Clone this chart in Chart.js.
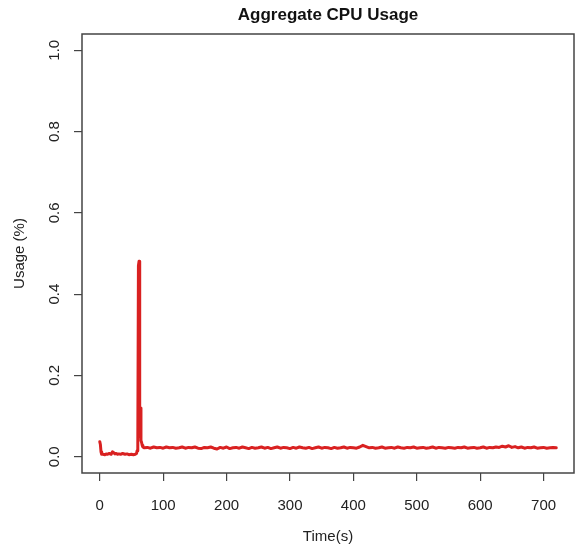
<!DOCTYPE html>
<html>
<head>
<meta charset="utf-8">
<script src="https://cdn.jsdelivr.net/npm/chart.js@4/dist/chart.umd.min.js"></script>
<style>
  html, body { margin: 0; padding: 0; background: #fff; }
  #wrap { width: 576px; height: 551px; }
</style>
</head>
<body>
<div id="wrap"><canvas id="cpu"></canvas></div>
<script>
const chartTitle = "Aggregate CPU Usage";
const xLabel = "Time(s)";
const yLabel = "Usage (%)";

const xTicks = [0, 100, 200, 300, 400, 500, 600, 700];
const yTicks = [0, 0.2, 0.4, 0.6, 0.8, 1.0];

// start-up section, before and around the spike
const timeStart = [0, 1, 2, 3, 5, 8, 10, 12, 15, 18, 20, 22, 24, 26, 28, 30, 33, 36, 40, 43,
  46, 50, 53, 56, 58, 59, 60, 61, 62, 63, 64, 65, 66, 67, 68, 70];
const usageStart = [0.037, 0.03, 0.012, 0.006, 0.006, 0.005, 0.007, 0.006, 0.008, 0.006,
  0.012, 0.01, 0.007, 0.008, 0.006, 0.007, 0.006, 0.008, 0.006, 0.007,
  0.005, 0.006, 0.005, 0.006, 0.008, 0.015, 0.02, 0.47, 0.481, 0.05, 0.12, 0.04, 0.035, 0.028, 0.024, 0.022];

// steady section
const timeSteady = [75, 80, 85, 90, 95, 100, 105, 110, 115, 120, 125, 130, 135, 140, 145, 150,
  155, 160, 165, 170, 175, 180, 185, 190, 195, 200, 205, 210, 215, 220, 225, 230, 235, 240,
  245, 250, 255, 260, 265, 270, 275, 280, 285, 290, 295, 300, 305, 310, 315, 320, 325, 330,
  335, 340, 345, 350, 355, 360, 365, 370, 375, 380, 385, 390, 395, 400, 405, 410, 415, 420,
  425, 430, 435, 440, 445, 450, 455, 460, 465, 470, 475, 480, 485, 490, 495, 500, 505, 510,
  515, 520, 525, 530, 535, 540, 545, 550, 555, 560, 565, 570, 575, 580, 585, 590, 595, 600,
  605, 610, 615, 620, 625, 630, 635, 640, 645, 650, 655, 660, 665, 670, 675, 680, 685, 690,
  695, 700, 705, 710, 715, 720];
const usageSteady = [0.023, 0.021, 0.024, 0.022, 0.023, 0.021, 0.024, 0.022, 0.023, 0.021,
  0.022, 0.024, 0.021, 0.023, 0.022, 0.024, 0.021, 0.020, 0.023, 0.022,
  0.024, 0.021, 0.019, 0.023, 0.021, 0.024, 0.020, 0.022, 0.023, 0.021,
  0.024, 0.022, 0.020, 0.023, 0.021, 0.022, 0.024, 0.021, 0.023, 0.020,
  0.022, 0.024, 0.021, 0.023, 0.022, 0.020, 0.023, 0.021, 0.024, 0.022,
  0.021, 0.023, 0.020, 0.022, 0.024, 0.021, 0.023, 0.022, 0.020, 0.023,
  0.021, 0.022, 0.024, 0.021, 0.023, 0.022, 0.021, 0.024, 0.028, 0.025,
  0.022, 0.023, 0.021, 0.022, 0.024, 0.021, 0.022, 0.023, 0.021, 0.024,
  0.022, 0.021, 0.023, 0.022, 0.024, 0.021, 0.022, 0.023, 0.021, 0.022,
  0.024, 0.021, 0.023, 0.022, 0.021, 0.023, 0.022, 0.021, 0.023, 0.022,
  0.024, 0.021, 0.022, 0.023, 0.021, 0.022, 0.024, 0.021, 0.023, 0.022,
  0.024, 0.023, 0.026, 0.024, 0.027, 0.023, 0.025, 0.022, 0.024, 0.021,
  0.023, 0.022, 0.024, 0.021, 0.022, 0.023, 0.021, 0.022, 0.023, 0.022];

const times = timeStart.concat(timeSteady);
const usage = usageStart.concat(usageSteady);

const FONT = "'Liberation Sans', Arial, sans-serif";
const INK = "#222";

// box around plot area + title centred over it (R style)
const framePlugin = {
  id: "frame",
  afterDraw(chart) {
    const { ctx, chartArea: a } = chart;
    ctx.save();
    ctx.strokeStyle = "#444";
    ctx.lineWidth = 1.5;
    ctx.strokeRect(a.left, a.top, a.right - a.left, a.bottom - a.top);
    ctx.fillStyle = "#111";
    ctx.font = "bold 17px " + FONT;
    ctx.textAlign = "center";
    ctx.textBaseline = "middle";
    ctx.fillText(chartTitle, (a.left + a.right) / 2, 15);
    ctx.restore();
  }
};

new Chart(document.getElementById("cpu"), {
  type: "line",
  data: {
    datasets: [{
      data: times.map((t, i) => ({ x: t, y: usage[i] })),
      borderColor: "#d92121",
      borderWidth: 3,
      borderJoinStyle: "round",
      borderCapStyle: "round",
      pointRadius: 0,
      tension: 0,
      fill: false
    }]
  },
  options: {
    responsive: true,
    maintainAspectRatio: false,
    animation: false,
    layout: { padding: { top: 34, right: 2, left: 0, bottom: 0 } },
    plugins: { legend: { display: false }, tooltip: { enabled: false }, title: { display: false } },
    scales: {
      x: {
        type: "linear",
        min: -28,
        max: 748,
        afterBuildTicks: s => { s.ticks = xTicks.map(v => ({ value: v })); },
        afterFit: s => { s.height = 78; },
        grid: { drawOnChartArea: false, drawTicks: true, tickLength: 8, color: "#444", lineWidth: 1.2 },
        border: { display: false },
        ticks: { color: INK, font: { family: FONT, size: 15 }, padding: 16, maxRotation: 0 },
        title: { display: true, text: xLabel, color: INK, font: { family: FONT, size: 15 }, padding: { top: 0, bottom: 5 } }
      },
      y: {
        min: -0.04,
        max: 1.04,
        afterBuildTicks: s => { s.ticks = yTicks.map(v => ({ value: v })); },
        afterFit: s => { s.width = 82; },
        grid: { drawOnChartArea: false, drawTicks: true, tickLength: 8, color: "#444", lineWidth: 1.2 },
        border: { display: false },
        ticks: {
          color: INK, font: { family: FONT, size: 15 }, padding: 9,
          minRotation: 90, maxRotation: 90, crossAlign: "center",
          callback: v => v.toFixed(1)
        },
        title: { display: true, text: yLabel, color: INK, font: { family: FONT, size: 15 }, padding: { top: 11, bottom: 0 } }
      }
    }
  },
  plugins: [framePlugin]
});
</script>
</body>
</html>
